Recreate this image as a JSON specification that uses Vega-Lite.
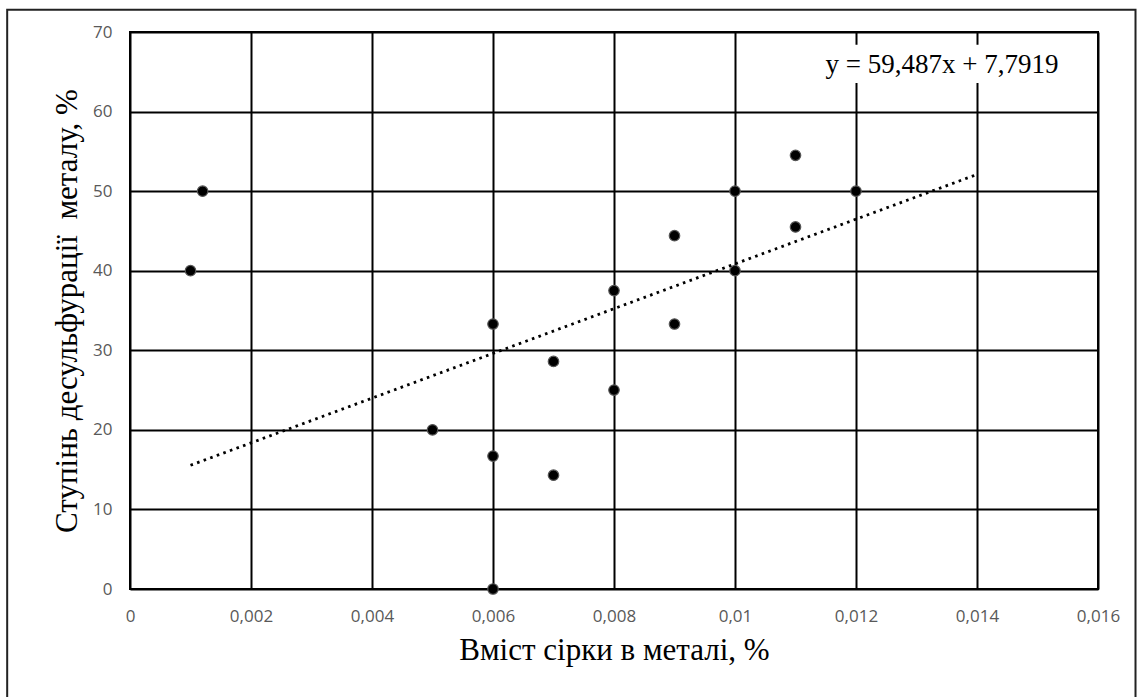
{
  "$schema": "https://vega.github.io/schema/vega-lite/v6.json",
  "autosize": "none",
  "width": 968,
  "height": 557,
  "padding": {"left": 130, "top": 32, "right": 40, "bottom": 108},
  "background": "white",
  "datasets": {
    "points": [
      {"x": 0.001, "y": 40},
      {"x": 0.0012, "y": 50},
      {"x": 0.005, "y": 20},
      {"x": 0.006, "y": 33.3},
      {"x": 0.006, "y": 16.7},
      {"x": 0.006, "y": 0},
      {"x": 0.007, "y": 28.6},
      {"x": 0.007, "y": 14.3},
      {"x": 0.008, "y": 37.5},
      {"x": 0.008, "y": 25},
      {"x": 0.009, "y": 44.4},
      {"x": 0.009, "y": 33.3},
      {"x": 0.01, "y": 50},
      {"x": 0.01, "y": 40},
      {"x": 0.011, "y": 54.5},
      {"x": 0.011, "y": 45.5},
      {"x": 0.012, "y": 50}
    ],
    "trend": [
      {"x": 0.001, "y": 15.55},
      {"x": 0.014, "y": 52.1}
    ]
  },
  "config": {
    "view": {"stroke": "black", "strokeWidth": 2},
    "axis": {
      "grid": true,
      "gridColor": "black",
      "gridWidth": 2,
      "gridOpacity": 1,
      "ticks": false,
      "domain": false,
      "labelFont": "Open Sans",
      "labelFontSize": 17,
      "labelColor": "#595959",
      "labelFlush": false,
      "labelBound": false,
      "labelOverlap": false,
      "titleFont": "Liberation Serif",
      "titleFontSize": 31,
      "titleFontWeight": "normal",
      "titleColor": "black"
    }
  },
  "layer": [
    {
      "data": {"name": "points"},
      "mark": {"type": "circle", "size": 110, "fill": "black", "stroke": "#555555", "strokeWidth": 1.2, "opacity": 1},
      "encoding": {
        "x": {
          "field": "x", "type": "quantitative",
          "scale": {"domain": [0, 0.016], "nice": false, "zero": false},
          "axis": {
            "values": [0, 0.002, 0.004, 0.006, 0.008, 0.01, 0.012, 0.014, 0.016],
            "labelExpr": "replace(toString(datum.value), '.', ',')",
            "labelPadding": 19,
            "title": "Вміст сірки в металі, %",
            "titlePadding": 11
          }
        },
        "y": {
          "field": "y", "type": "quantitative",
          "scale": {"domain": [0, 70], "nice": false},
          "axis": {
            "values": [0, 10, 20, 30, 40, 50, 60, 70],
            "labelPadding": 18,
            "title": "Ступінь десульфурації\u00a0 металу, %",
            "titlePadding": 9
          }
        }
      }
    },
    {
      "data": {"name": "trend"},
      "mark": {"type": "line", "color": "black", "strokeWidth": 2.8, "strokeDash": [2.6, 4.4]},
      "encoding": {
        "x": {"field": "x", "type": "quantitative"},
        "y": {"field": "y", "type": "quantitative"}
      }
    },
    {
      "data": {"values": [{}]},
      "mark": {"type": "rect", "fill": "white", "stroke": null},
      "encoding": {
        "x": {"datum": 0.0114, "type": "quantitative"},
        "x2": {"datum": 0.0154},
        "y": {"datum": 63.6, "type": "quantitative"},
        "y2": {"datum": 68.4}
      }
    },
    {
      "data": {"values": [{}]},
      "mark": {"type": "text", "font": "Liberation Serif", "fontSize": 27, "color": "black", "align": "center", "baseline": "middle"},
      "encoding": {
        "x": {"datum": 0.01342, "type": "quantitative"},
        "y": {"datum": 65.8, "type": "quantitative"},
        "text": {"value": "y = 59,487x + 7,7919"}
      }
    },
    {
      "data": {"values": [{}]},
      "mark": {"type": "rect", "fill": null, "stroke": "#222222", "strokeWidth": 2},
      "encoding": {
        "x": {"datum": -0.00203, "type": "quantitative"},
        "x2": {"datum": 0.01662},
        "y": {"datum": 72.8, "type": "quantitative"},
        "y2": {"datum": -14}
      }
    }
  ]
}
